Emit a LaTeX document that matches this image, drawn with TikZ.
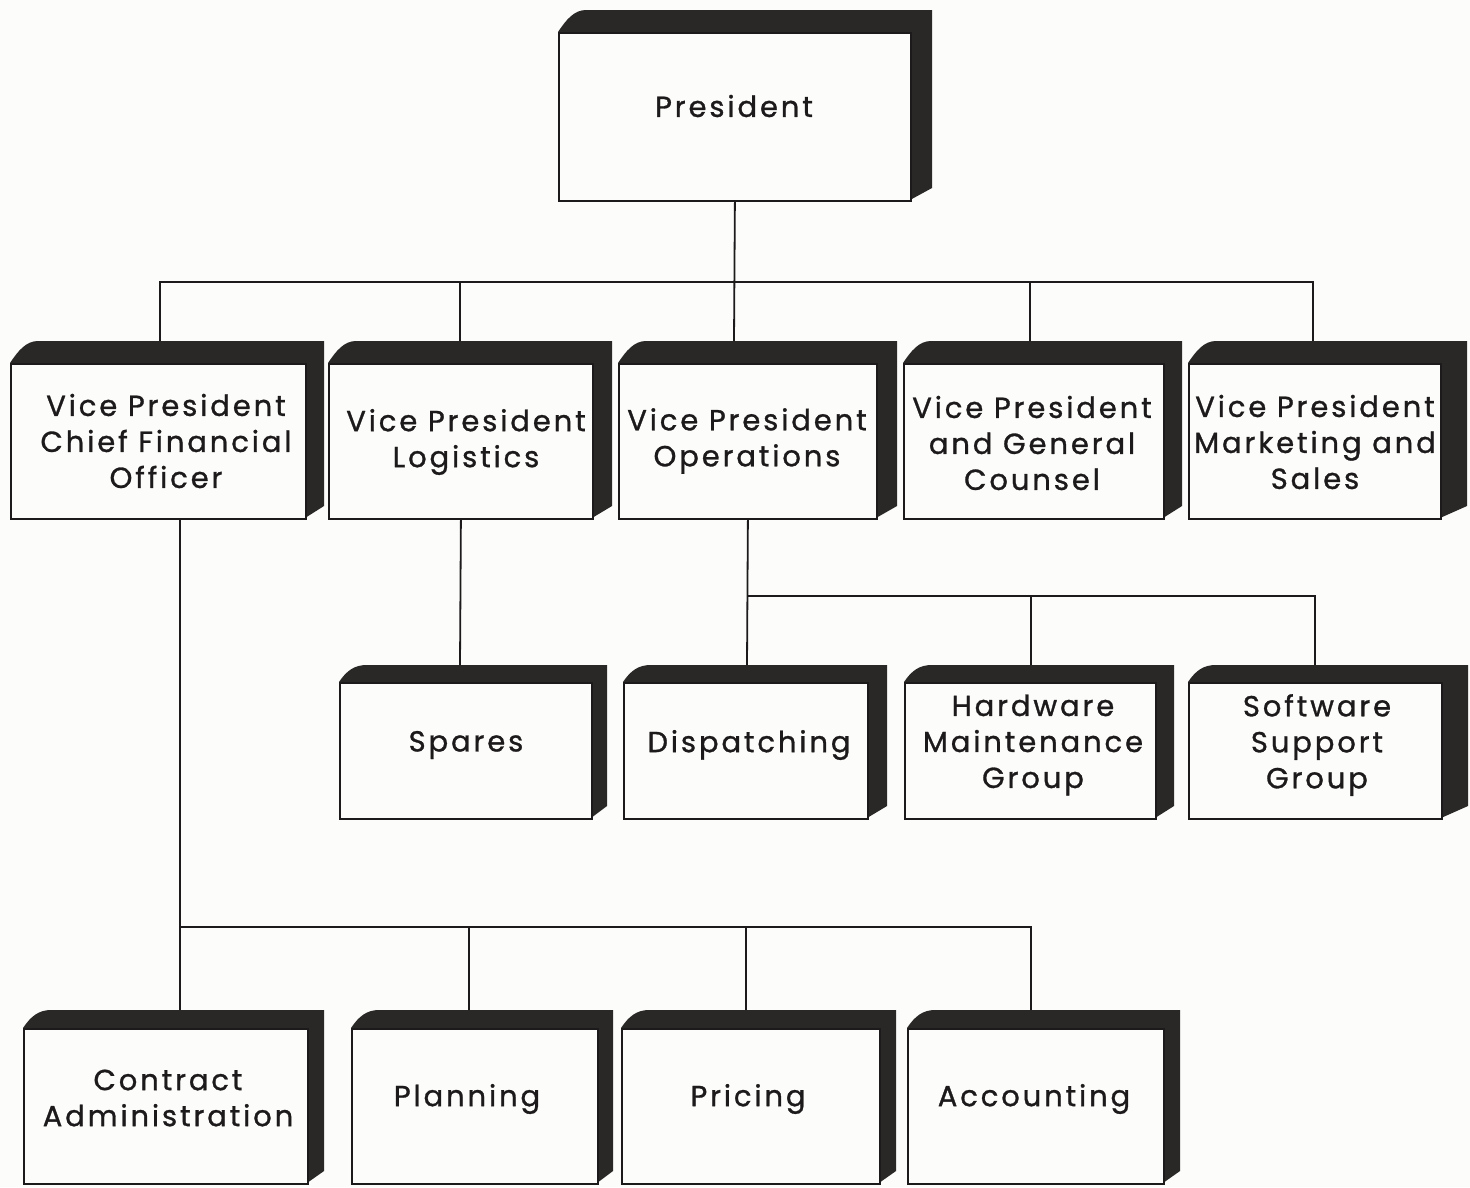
\documentclass[tikz,border=0pt]{standalone}
\usepackage{fontspec}
\setmainfont{Poppins}[LetterSpace=10, FakeBold=1]
\definecolor{paper}{RGB}{252,252,250}
\definecolor{ink}{RGB}{28,26,26}
\tikzset{
  x=1pt, y=-1pt,
  face/.style={draw=ink, line width=1.8pt, fill=paper, inner sep=0pt, anchor=north west},
  slab/.style={fill=ink!94!paper},
  lbl/.style={font=\fontsize{29}{36}\selectfont, align=center, text=ink, inner sep=0pt},
  wire/.style={draw=ink, line width=1.8pt},
}
% #1 name, #2 left, #3 top, #4 right, #5 bottom of the front face,
% #6 side depth, #7 top depth, #8 x where the lead-in line meets the box
\newcommand\orgbox[8]{%
  \fill[slab] (#2,#3) .. controls (#2+8,#3-12) and (#2+16,#3-#7) .. (#2+28,#3-#7)
    -- (#4+#6,#3-#7) -- (#4+#6,#5-12) -- (#4,#5) -- cycle;
  \node[face, minimum width=#4pt-#2pt, minimum height=#5pt-#3pt] (#1) at (#2,#3) {};
  \coordinate (#1-in) at (#8,#3-#7);
}
\begin{document}
\begin{tikzpicture}
\useasboundingbox (0,0) rectangle (1470,1187);
\fill[paper] (0,0) rectangle (1470,1187);

% boxes
\orgbox{pres}{558}{32}{910}{200}{22}{22}{734}
\orgbox{cfo}{10}{363}{305}{518}{19}{22}{160}
\orgbox{log}{328}{363}{592}{518}{20}{22}{460}
\orgbox{ops}{618}{363}{876}{518}{21}{22}{734}
\orgbox{gc}{903}{363}{1163}{518}{19}{22}{1030}
\orgbox{mkt}{1188}{363}{1440}{518}{27}{22}{1313}
\orgbox{spa}{339}{682}{591}{818}{16}{17}{460}
\orgbox{disp}{623}{682}{867}{818}{20}{17}{747}
\orgbox{hw}{904}{682}{1155}{818}{19}{17}{1031}
\orgbox{sw}{1188}{682}{1441}{818}{27}{17}{1315}
\orgbox{ca}{23}{1028}{307}{1183}{17}{18}{180}
\orgbox{plan}{351}{1028}{597}{1183}{16}{18}{469}
\orgbox{pri}{621}{1028}{879}{1183}{17}{18}{746}
\orgbox{acc}{907}{1028}{1163}{1183}{17}{18}{1031}

% labels
\node[lbl] (pres-t) at (734,106) {President};
\node[lbl] (cfo-t) at (166,441) {Vice President\\Chief Financial\\Officer};
\node[lbl] (log-t) at (466,442) {Vice President\\Logistics};
\node[lbl] (ops-t) at (747,441) {Vice President\\Operations};
\node[lbl] (gc-t) at (1032,443) {Vice President\\and General\\Counsel};
\node[lbl] (mkt-t) at (1315,442) {Vice President\\Marketing and\\Sales};
\node[lbl] (spa-t) at (466,745) {Spares};
\node[lbl] (disp-t) at (749,745) {Dispatching};
\node[lbl] (hw-t) at (1033,745) {Hardware\\Maintenance\\Group};
\node[lbl] (sw-t) at (1317,745) {Software\\Support\\Group};
\node[lbl] (ca-t) at (168,1098) {Contract\\Administration};
\node[lbl] (plan-t) at (467,1099) {Planning};
\node[lbl] (pri-t) at (748,1099) {Pricing};
\node[lbl] (acc-t) at (1034,1099) {Accounting};

% bus levels
\coordinate (bus1) at (734,282);
\coordinate (bus2) at (747,596);
\coordinate (bus3) at (180,927);

% president to vice presidents
\draw[wire] (pres.south) -- (ops-in);
\draw[wire] (cfo-in) -- (cfo-in |- bus1) -- (mkt-in |- bus1) -- (mkt-in);
\draw[wire] (log-in) -- (log-in |- bus1);
\draw[wire] (gc-in) -- (gc-in |- bus1);

% logistics
\draw[wire] (log.south) -- (spa-in);

% operations
\draw[wire] (ops.south) -- (disp-in);
\draw[wire] (ops.south |- bus2) -- (sw-in |- bus2) -- (sw-in);
\draw[wire] (hw-in) -- (hw-in |- bus2);

% finance
\draw[wire] (cfo.south -| ca-in) -- (ca-in);
\draw[wire] (ca-in |- bus3) -- (acc-in |- bus3) -- (acc-in);
\draw[wire] (plan-in) -- (plan-in |- bus3);
\draw[wire] (pri-in) -- (pri-in |- bus3);
\end{tikzpicture}
\end{document}
